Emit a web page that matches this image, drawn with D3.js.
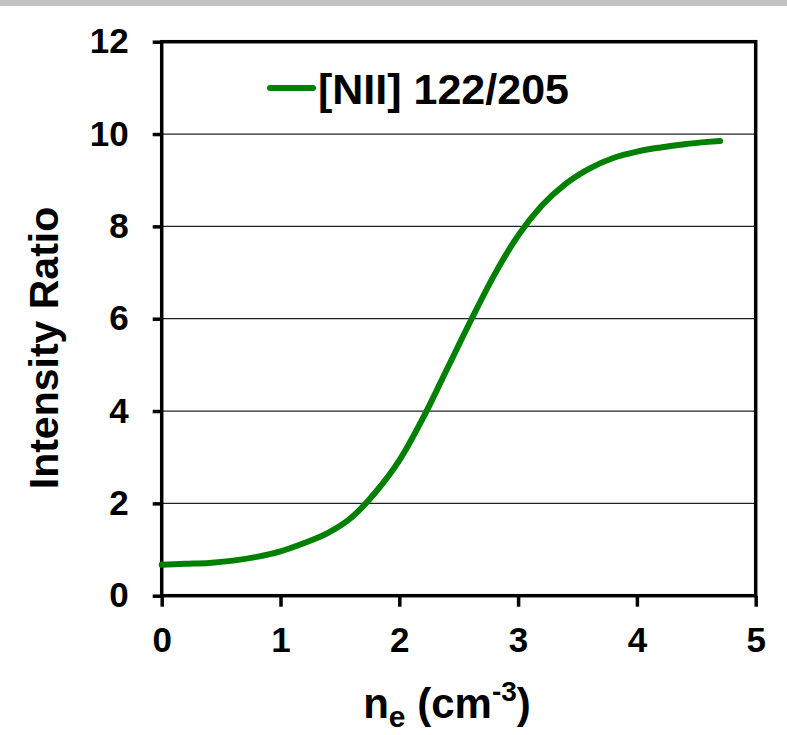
<!DOCTYPE html>
<html>
<head>
<meta charset="utf-8">
<script src="https://cdn.jsdelivr.net/npm/d3@7"></script>
<style>
  body { margin: 0; background: #fff; }
  svg text { font-family: "Liberation Sans", Arial, sans-serif; font-weight: bold; fill: #000; }
</style>
</head>
<body>
<svg id="chart"></svg>
<script>
// density (log) and intensity ratio
const density = [0, 0.2, 0.4, 0.6, 0.8, 1.0, 1.2, 1.4, 1.6, 1.8, 2.0, 2.2, 2.4, 2.6, 2.8, 3.0, 3.2, 3.4, 3.6, 3.8, 4.0, 4.2, 4.4, 4.6, 4.7];
const ratio = [0.67, 0.69, 0.71, 0.76, 0.84, 0.96, 1.14, 1.36, 1.7, 2.24, 2.93, 3.85, 4.9, 5.95, 6.95, 7.8, 8.45, 8.92, 9.25, 9.48, 9.62, 9.71, 9.78, 9.83, 9.85];
const xTicks = [0, 1, 2, 3, 4, 5];
const yTicks = [0, 2, 4, 6, 8, 10, 12];
const seriesName = "[NII] 122/205";

const width = 787;
const height = 735;
const marginTop = 41.7;
const marginRight = 31.3;
const marginBottom = 139.3;
const marginLeft = 161.7;

const svg = d3.select("#chart")
    .attr("width", width)
    .attr("height", height);

// grey strip along the top edge
svg.append("rect")
    .attr("x", 0).attr("y", 0)
    .attr("width", width).attr("height", 6)
    .attr("fill", "#c3c3c3");

const x = d3.scaleLinear()
    .domain([0, 5])
    .range([marginLeft, width - marginRight]);

const y = d3.scaleLinear()
    .domain([0, 12])
    .range([height - marginBottom, marginTop]);

// gridlines
svg.append("g")
    .selectAll("line")
    .data(yTicks.filter(d => d > 0 && d < 12))
    .join("line")
      .attr("x1", x(0))
      .attr("x2", x(5))
      .attr("y1", d => y(d))
      .attr("y2", d => y(d))
      .attr("stroke", "#222")
      .attr("stroke-width", 1.2);

// x axis
const xAxis = svg.append("g")
    .attr("transform", `translate(0,${y(0)})`)
    .call(d3.axisBottom(x).tickValues(xTicks).tickSize(11).tickPadding(20).tickFormat(d3.format("d")));
xAxis.select(".domain").remove();
xAxis.selectAll("line").attr("stroke", "#000").attr("stroke-width", 3.5);
xAxis.selectAll("text").attr("font-size", 35).attr("fill", "#000");

// y axis
const yAxis = svg.append("g")
    .attr("transform", `translate(${x(0)},0)`)
    .call(d3.axisLeft(y).tickValues(yTicks).tickSize(9).tickPadding(24).tickFormat(d3.format("d")));
yAxis.select(".domain").remove();
yAxis.selectAll("line").attr("stroke", "#000").attr("stroke-width", 3.5);
yAxis.selectAll("text").attr("font-size", 35).attr("fill", "#000");

// plot frame
svg.append("rect")
    .attr("x", x(0))
    .attr("y", y(12))
    .attr("width", x(5) - x(0))
    .attr("height", y(0) - y(12))
    .attr("fill", "none")
    .attr("stroke", "#000")
    .attr("stroke-width", 3.5);

// curve
const line = d3.line()
    .x((d, i) => x(density[i]))
    .y((d, i) => y(ratio[i]))
    .curve(d3.curveMonotoneX);

svg.append("path")
    .datum(ratio)
    .attr("d", line)
    .attr("fill", "none")
    .attr("stroke", "#008000")
    .attr("stroke-width", 6)
    .attr("stroke-linecap", "round");

// legend
svg.append("line")
    .attr("x1", 270).attr("x2", 313)
    .attr("y1", 88).attr("y2", 88)
    .attr("stroke", "#008000")
    .attr("stroke-width", 6)
    .attr("stroke-linecap", "round");
svg.append("text")
    .attr("x", 318).attr("y", 104)
    .attr("font-size", 43)
    .text(seriesName);

// axis titles
const xTitle = svg.append("text")
    .attr("x", 447)
    .attr("y", 718)
    .attr("text-anchor", "middle")
    .attr("font-size", 42);
xTitle.append("tspan").text("n");
xTitle.append("tspan").attr("font-size", 30).attr("dy", 9).text("e");
xTitle.append("tspan").attr("dy", -9).text(" (cm");
xTitle.append("tspan").attr("font-size", 28).attr("dy", -17).text("-3");
xTitle.append("tspan").attr("dy", 17).text(")");

svg.append("text")
    .attr("transform", `translate(58,348) rotate(-90)`)
    .attr("text-anchor", "middle")
    .attr("font-size", 41)
    .text("Intensity Ratio");
</script>
</body>
</html>
